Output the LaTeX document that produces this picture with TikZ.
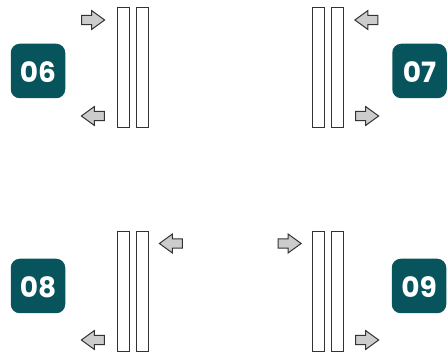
\documentclass[tikz,border=0pt]{standalone}
\usepackage{fontspec}
\setmainfont{Poppins}
\usetikzlibrary{shapes.arrows}
\definecolor{badgeteal}{HTML}{07545C}
\definecolor{arrowgrey}{HTML}{CCCCCC}
\definecolor{edgegrey}{HTML}{333333}
\tikzset{
  x=1pt,y=-1pt,
  badge/.style={draw=none,fill=badgeteal,rounded corners=9pt,minimum width=54.5pt,minimum height=54.5pt,inner sep=0pt,text=white,text height=23pt,text depth=0pt,font=\fontsize{28}{28}\selectfont\bfseries},
  bar/.style={draw=edgegrey,line width=1pt,fill=white,minimum width=12pt,minimum height=119.5pt,inner sep=0pt},
  flow/.style={single arrow,anchor=tip,draw=edgegrey,line width=1pt,fill=arrowgrey,minimum width=18pt,minimum height=23pt,single arrow head extend=4.75pt,single arrow tip angle=72,single arrow head indent=0pt,inner sep=4.2pt},
  flowright/.style={flow},
  flowleft/.style={flow,shape border rotate=180},
}
\begin{document}
\begin{tikzpicture}
\useasboundingbox (0,0) rectangle (447,352);
% 06
\node[badge] (b06) at (38,71) {06};
\node[bar] (a1) at (123,67.5) {};
\node[bar] (a2) at (142,67.5) {};
\node[flowright] (a3) at (105.5,20) {};
\node[flowleft] (a4) at (80.5,116) {};
% 07
\node[badge] (b07) at (419.5,71) {07};
\node[bar] (c1) at (318.5,67.5) {};
\node[bar] (c2) at (337.7,67.5) {};
\node[flowleft] (c3) at (354,20) {};
\node[flowright] (c4) at (379.5,116) {};
% 08
\node[badge] (b08) at (38,286) {08};
\node[bar] (d1) at (123,291.5) {};
\node[bar] (d2) at (142,291.5) {};
\node[flowleft] (d3) at (158.5,243.5) {};
\node[flowleft] (d4) at (80.5,340) {};
% 09
\node[badge] (b09) at (419,286) {09};
\node[bar] (e1) at (318.5,291.5) {};
\node[bar] (e2) at (337.7,291.5) {};
\node[flowright] (e3) at (302,243.5) {};
\node[flowright] (e4) at (379.5,340) {};
\end{tikzpicture}
\end{document}
